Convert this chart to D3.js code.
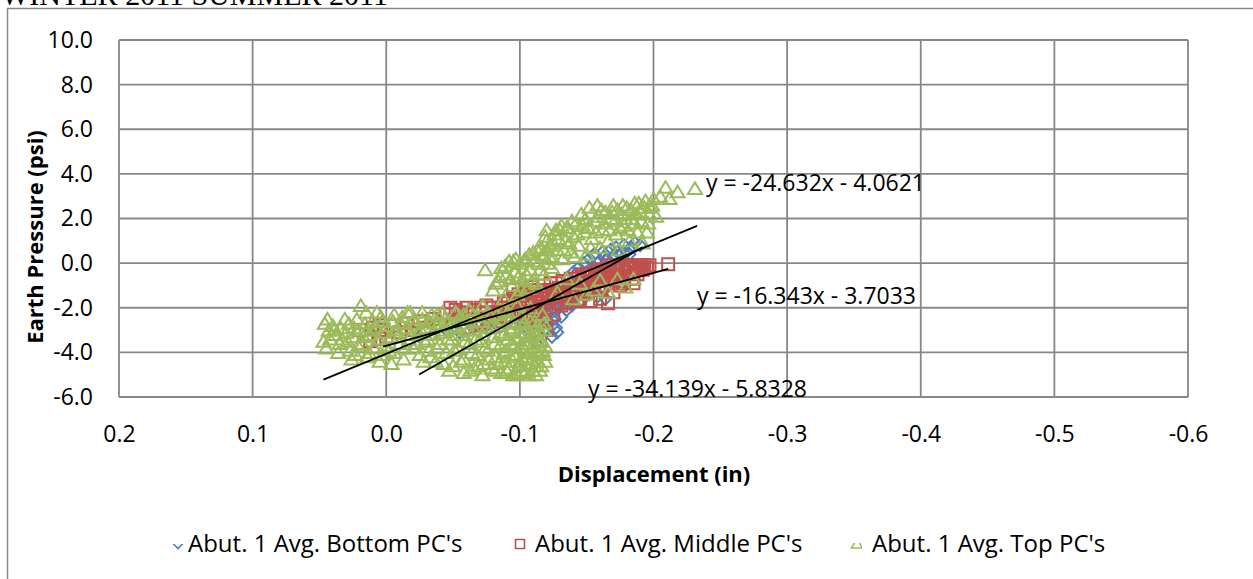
<!DOCTYPE html>
<html><head><meta charset="utf-8">
<script src="https://cdn.jsdelivr.net/npm/d3@7/dist/d3.min.js"></script>
<style>
html,body{margin:0;padding:0;background:#fff;overflow:hidden;}
svg{display:block;}
text{font-family:"Open Sans",sans-serif;fill:#000;}
</style></head>
<body>
<svg id="chart" width="1253" height="579"></svg>
<script>
// ---- data ----
const xTickValues = [0.2, 0.1, 0.0, -0.1, -0.2, -0.3, -0.4, -0.5, -0.6];
const xTickLabels = ["0.2", "0.1", "0.0", "-0.1", "-0.2", "-0.3", "-0.4", "-0.5", "-0.6"];
const yTickValues = [10, 8, 6, 4, 2, 0, -2, -4, -6];
const yTickLabels = ["10.0", "8.0", "6.0", "4.0", "2.0", "0.0", "-2.0", "-4.0", "-6.0"];
const seriesNames = ["Abut. 1 Avg. Bottom PC's", "Abut. 1 Avg. Middle PC's", "Abut. 1 Avg. Top PC's"];

const bottomPCs = [
 [-0.025,-3.3],[-0.035,-3.2],[-0.045,-3.0],[-0.055,-3.1],[-0.065,-2.9],[-0.075,-2.8],[-0.085,-2.9],[-0.095,-2.7],
 [-0.100,-2.5],[-0.105,-2.9],[-0.108,-3.3],[-0.110,-2.2],[-0.112,-3.6],[-0.114,-2.6],[-0.116,-1.9],[-0.118,-3.0],
 [-0.120,-2.3],[-0.122,-1.6],[-0.124,-2.8],[-0.125,-2.0],[-0.127,-1.3],[-0.128,-3.1],[-0.130,-1.7],[-0.132,-1.0],
 [-0.134,-1.4],[-0.136,-0.7],[-0.138,-1.1],[-0.140,-0.4],[-0.142,-0.9],[-0.144,-0.2],[-0.146,-0.6],[-0.148,0.0],
 [-0.150,-0.4],[-0.152,0.2],[-0.154,-0.2],[-0.156,0.4],[-0.158,-1.5],[-0.160,0.1],[-0.162,0.5],[-0.164,-1.6],
 [-0.165,0.2],[-0.168,0.6],[-0.170,0.3],[-0.172,0.7],[-0.175,0.4],[-0.178,0.8],[-0.180,0.5],[-0.183,0.7],
 [-0.186,0.9],[-0.190,0.8],[-0.152,-1.4],[-0.146,-1.7],[-0.140,-1.6],[-0.120,-2.56],[-0.124,-2.2],[-0.155,0.36],
 [-0.126,-2.5],[-0.129,-2.0],[-0.131,-2.4],[-0.133,-1.8],[-0.124,-3.3],[-0.127,-2.9],[-0.135,-2.1],[-0.137,-1.5],
 [-0.139,-1.9],[-0.158,0.0],[-0.163,0.3],[-0.167,0.0],[-0.173,0.5],[-0.177,0.2],[-0.182,0.4]
];

const middlePCs = [
 [0.020,-3.0],[0.015,-3.2],[0.010,-2.9],[0.005,-3.4],[0.002,-3.0],[0.000,-3.3],[0.012,-3.5],[0.005,-2.8],
 [-0.005,-2.8],[-0.010,-3.1],[-0.015,-2.7],[-0.020,-3.0],[-0.025,-2.6],[-0.030,-2.9],[-0.035,-2.5],[-0.040,-2.8],
 [-0.045,-2.3],[-0.048,-2.0],[-0.050,-2.6],[-0.055,-2.2],[-0.058,-2.9],[-0.060,-2.0],[-0.063,-2.5],[-0.066,-2.1],
 [-0.070,-2.7],[-0.072,-2.2],[-0.075,-1.9],[-0.078,-2.4],[-0.080,-2.0],[-0.083,-2.6],[-0.085,-2.2],[-0.088,-1.8],
 [-0.090,-2.4],[-0.092,-2.0],[-0.095,-1.6],[-0.095,-1.2],[-0.098,-2.2],[-0.100,-1.8],[-0.102,-1.4],[-0.104,-2.5],
 [-0.106,-2.0],[-0.108,-1.07],[-0.108,-1.6],[-0.110,-2.8],[-0.110,-1.2],[-0.112,-3.2],[-0.112,-2.2],[-0.113,-3.0],
 [-0.114,-1.8],[-0.115,-3.5],[-0.116,-1.4],[-0.118,-2.6],[-0.118,-1.0],[-0.120,-2.0],[-0.120,-3.0],[-0.122,-1.6],
 [-0.124,-1.2],[-0.125,-2.3],[-0.127,-0.9],[-0.128,-1.8],[-0.130,-1.4],[-0.131,-1.9],[-0.132,-0.8],[-0.134,-1.2],
 [-0.135,-1.8],[-0.136,-1.6],[-0.138,-0.7],[-0.140,-1.0],[-0.142,-1.4],[-0.143,-1.7],[-0.144,-0.6],[-0.146,-0.9],
 [-0.148,-1.3],[-0.150,-0.5],[-0.152,-0.8],[-0.153,-1.7],[-0.155,-1.1],[-0.157,-0.4],[-0.160,-0.7],[-0.162,-1.0],
 [-0.164,-0.3],[-0.166,-1.8],[-0.166,-0.6],[-0.168,-0.9],[-0.170,-0.2],[-0.172,-0.5],[-0.174,-0.8],[-0.176,-0.3],
 [-0.178,-0.6],[-0.180,-0.1],[-0.182,-0.4],[-0.184,-0.7],[-0.186,-0.2],[-0.188,-0.5],[-0.190,-0.1],[-0.192,-0.3],
 [-0.195,-0.2],[-0.197,-0.1],[-0.211,-0.05],
 [-0.121,-1.3],[-0.123,-0.9],[-0.126,-1.5],[-0.129,-1.1],[-0.133,-1.5],[-0.137,-1.1],[-0.139,-1.3],[-0.141,-0.7],
 [-0.145,-1.1],[-0.147,-0.5],[-0.149,-0.9],[-0.151,-1.2],[-0.154,-0.6],[-0.156,-0.9],[-0.158,-0.3],[-0.159,-1.2],
 [-0.161,-0.5],[-0.163,-0.8],[-0.165,-0.1],[-0.167,-0.4],[-0.169,-0.7],[-0.171,-0.3],[-0.173,-0.1],[-0.175,-0.6],
 [-0.177,-0.2],[-0.179,-0.4],[-0.181,-0.2],[-0.183,-0.1],[-0.185,-0.4],[-0.187,-0.1],[-0.189,-0.3],[-0.191,-0.2],
 [-0.193,-0.1],[-0.185,-0.9],[-0.175,-1.0],[-0.160,-1.6],[-0.170,-1.3],[-0.145,-1.6],[-0.178,-0.9],
 [-0.052,-2.1],[-0.057,-2.5],[-0.062,-2.3],[-0.067,-2.8],[-0.071,-2.0],[-0.076,-2.5],[-0.081,-2.2],[-0.086,-2.0],
 [-0.091,-1.7],[-0.094,-2.4],[-0.097,-1.8],[-0.099,-1.4],[-0.101,-2.2],[-0.103,-1.7],[-0.105,-1.3],[-0.107,-2.3],
 [-0.109,-1.9],[-0.111,-1.5],[-0.113,-2.6],[-0.115,-2.0],[-0.117,-1.6],[-0.119,-1.2]
];

const topPCs = [
 [0.046,-2.7],[0.047,-3.5],[0.045,-3.8],[0.043,-3.0],[0.040,-2.8],[0.038,-3.2],[0.036,-4.0],[0.034,-2.9],
 [0.033,-3.4],[0.030,-3.1],[0.028,-2.7],[0.027,-3.9],[0.025,-3.3],[0.023,-4.1],[0.022,-2.5],[0.020,-3.0],
 [0.019,-1.9],[0.018,-3.6],[0.016,-2.7],[0.015,-2.2],[0.014,-4.2],[0.012,-3.2],[0.010,-2.6],[0.009,-3.8],
 [0.008,-2.9],[0.006,-3.4],[0.005,-4.4],[0.004,-2.4],[0.002,-3.1],[0.001,-3.7],[0.000,-2.8],
 [-0.003,-3.3],[-0.005,-2.6],[-0.006,-4.0],[-0.008,-3.0],[-0.010,-3.6],[-0.012,-2.4],[-0.013,-4.3],[-0.015,-2.9],
 [-0.017,-3.4],[-0.018,-2.2],[-0.020,-3.8],[-0.022,-2.7],[-0.024,-3.1],[-0.025,-4.1],[-0.027,-2.5],[-0.029,-3.5],
 [-0.030,-2.9],[-0.032,-3.9],[-0.034,-2.3],[-0.035,-3.2],[-0.037,-4.4],[-0.039,-2.7],[-0.040,-3.6],[-0.042,-2.2],
 [-0.044,-3.0],[-0.045,-4.0],[-0.047,-2.6],[-0.049,-3.4],[-0.050,-4.6],[-0.052,-2.9],[-0.054,-3.8],[-0.055,-2.4],
 [-0.057,-3.2],[-0.058,-4.3],[-0.060,-2.7],[-0.062,-3.6],[-0.063,-4.8],[-0.065,-2.3],[-0.066,-3.0],[-0.068,-4.1],
 [-0.070,-2.6],[-0.071,-3.5],[-0.073,-4.5],[-0.075,-2.9],[-0.076,-3.9],[-0.078,-2.4],[-0.079,-4.7],[-0.080,-3.3],
 [-0.082,-4.2],[-0.083,-2.8],[-0.085,-3.7],[-0.086,-4.9],[-0.087,-2.5],[-0.088,-3.2],[-0.089,-4.4],[-0.090,-3.9],
 [-0.091,-2.2],[-0.092,-4.7],[-0.093,-3.0],[-0.094,-3.6],[-0.095,-5.0],[-0.096,-4.1],[-0.097,-2.7],[-0.098,-3.4],
 [-0.099,-4.6],[-0.100,-3.8],[-0.101,-2.4],[-0.102,-4.3],[-0.103,-3.1],[-0.104,-4.9],[-0.105,-3.6],[-0.106,-2.9],
 [-0.107,-4.5],[-0.108,-4.0],[-0.109,-3.3],[-0.110,-4.8],[-0.111,-2.6],[-0.112,-3.9],[-0.113,-4.4],[-0.114,-3.0],
 [-0.115,-4.8],[-0.116,-3.5],[-0.117,-2.3],[-0.118,-4.1],[-0.119,-3.7],[-0.108,-2.0],[-0.098,-1.9],[-0.088,-2.1],
 [-0.072,-1.9],[-0.062,-2.1],
 [-0.002,-3.9],[-0.009,-3.3],[-0.014,-3.8],[-0.019,-3.2],[-0.023,-3.6],[-0.026,-3.0],[-0.031,-3.4],[-0.033,-4.2],
 [-0.036,-2.7],[-0.038,-3.8],[-0.041,-3.1],[-0.043,-4.5],[-0.046,-3.4],[-0.048,-2.8],[-0.051,-3.9],[-0.053,-3.2],
 [-0.056,-4.4],[-0.059,-3.5],[-0.061,-3.0],[-0.064,-4.0],[-0.067,-3.4],[-0.069,-4.6],[-0.072,-3.2],[-0.074,-3.8],
 [-0.077,-4.3],[-0.079,-2.9],[-0.081,-3.6],[-0.084,-4.5],[-0.086,-3.1],[-0.088,-4.0],[-0.090,-4.8],[-0.091,-3.4],
 [-0.093,-4.2],[-0.095,-2.9],[-0.096,-3.7],[-0.097,-4.9],[-0.099,-3.1],[-0.100,-4.4],[-0.101,-3.6],[-0.102,-4.8],
 [-0.103,-2.7],[-0.104,-3.9],[-0.105,-4.2],[-0.106,-3.3],[-0.107,-5.0],[-0.108,-2.6],[-0.109,-4.3],[-0.110,-3.6],
 [-0.111,-4.6],[-0.112,-3.2],[-0.113,-2.8],[-0.114,-4.0],[-0.115,-3.4],[-0.116,-4.6],[-0.117,-3.9],[-0.118,-3.0],
 [-0.119,-4.4],[-0.118,-2.7],[-0.092,-2.6],[-0.083,-2.3],[-0.076,-2.2],[-0.068,-2.4],[-0.058,-2.3],[-0.052,-2.2],
 [-0.044,-2.5],[-0.038,-2.3],[-0.032,-2.6],[-0.027,-2.2],[-0.021,-2.5],[-0.016,-2.2],[-0.011,-2.7],[-0.006,-2.3],
 [0.003,-2.6],[0.007,-2.2],[0.011,-3.0],[0.017,-3.3],[0.021,-3.7],[0.024,-2.9],[0.029,-3.5],[0.031,-2.5],
 [0.035,-3.6],[0.039,-3.0],[0.042,-3.4],[0.044,-2.5],[0.026,-4.3],[0.013,-4.0],[0.003,-4.1],[-0.004,-4.5],
 [-0.028,-4.4],[-0.047,-4.8],[-0.066,-4.7],[-0.081,-4.8],[-0.098,-5.0],[-0.112,-5.0],[-0.058,-4.9],[-0.072,-5.0],
 [-0.074,-0.3],[-0.080,-1.2],[-0.084,-0.8],[-0.086,-0.2],[-0.085,-0.6],[-0.088,-1.6],[-0.090,-0.5],[-0.092,0.1],
 [-0.094,-1.0],[-0.095,0.1],[-0.096,-0.4],[-0.098,-1.4],[-0.100,0.0],[-0.102,-0.7],[-0.104,0.2],[-0.106,-1.1],
 [-0.108,-0.3],[-0.110,0.5],[-0.112,-0.9],[-0.114,0.0],[-0.116,0.7],[-0.118,-0.5],[-0.120,1.0],[-0.120,1.5],
 [-0.120,0.6],[-0.122,0.3],[-0.124,-0.2],[-0.126,1.3],[-0.127,1.5],[-0.128,0.6],[-0.130,1.5],[-0.132,0.2],
 [-0.134,1.0],[-0.135,1.6],[-0.136,1.6],[-0.138,0.5],[-0.140,1.2],
 [-0.082,-0.9],[-0.089,-0.1],[-0.093,-0.7],[-0.097,0.2],[-0.099,-0.6],[-0.101,-1.2],[-0.103,0.1],[-0.105,-0.5],
 [-0.107,0.4],[-0.109,-0.8],[-0.111,0.1],[-0.113,0.6],[-0.115,-0.3],[-0.117,0.4],[-0.119,1.2],[-0.121,0.0],
 [-0.123,0.8],[-0.125,0.2],[-0.129,1.1],[-0.133,0.6],
 [-0.142,1.8],[-0.144,0.8],[-0.146,2.2],[-0.148,1.4],[-0.150,0.4],[-0.152,2.5],[-0.154,1.1],[-0.156,1.9],
 [-0.158,2.6],[-0.160,0.7],[-0.162,1.5],[-0.164,2.3],[-0.166,1.0],[-0.168,2.0],[-0.170,2.6],[-0.172,1.3],
 [-0.174,0.6],[-0.176,2.2],[-0.178,1.7],[-0.180,2.5],[-0.182,1.0],[-0.184,2.0],[-0.186,2.7],[-0.188,1.4],
 [-0.190,2.3],[-0.192,0.9],[-0.194,2.8],[-0.196,1.8],[-0.198,2.5],[-0.200,2.9],[-0.202,2.1],[-0.205,3.0],
 [-0.209,3.4],[-0.212,2.9],[-0.218,3.2],[-0.231,3.35],
 [-0.125,0.9],[-0.131,1.7],[-0.137,0.9],[-0.139,1.9],[-0.141,0.3],[-0.143,1.3],[-0.147,1.7],[-0.149,2.0],
 [-0.151,1.6],[-0.153,0.7],[-0.157,1.4],[-0.159,2.1],[-0.161,2.4],[-0.163,1.8],[-0.167,1.5],[-0.169,2.3],
 [-0.171,1.9],[-0.173,2.4],[-0.175,1.6],[-0.177,2.6],[-0.179,2.0],[-0.181,1.5],[-0.183,2.4],[-0.185,1.8],
 [-0.187,2.2],[-0.189,2.7],[-0.191,1.9],[-0.193,2.5],[-0.195,1.4],[-0.197,2.2],[-0.199,2.6],
 [-0.145,-0.9],[-0.150,-1.4],[-0.155,-1.2],[-0.160,-0.76],[-0.166,-1.3],[-0.173,-0.7],[-0.179,-1.07],[-0.185,-0.7],
 [-0.135,-0.7],[-0.140,-1.6],[-0.128,-1.3]
];

// trendlines: slope, intercept, x-range (from, to)
const trendSlopes = [-34.139, -16.343, -24.632];
const trendIntercepts = [-5.8328, -3.7033, -4.0621];
const trendFrom = [-0.0246, 0.0024, 0.047];
const trendTo = [-0.192, -0.211, -0.2326];
const trendLabels = ["y = -34.139x - 5.8328", "y = -16.343x - 3.7033", "y = -24.632x - 4.0621"];

// ---- drawing ----
const colors = ["#4F81BD", "#C0504D", "#9BBB59"];
const svg = d3.select("#chart");
const L = 119, R = 1188, T = 40, B = 397;
const x = d3.scaleLinear().domain([0.2, -0.6]).range([L, R]);
const y = d3.scaleLinear().domain([-6, 10]).range([B, T]);

// cropped title
svg.append("text").attr("x", 1).attr("y", 5)
  .style("font-family", "'Liberation Serif',serif").style("font-size", "30px")
  .text("WINTER 2011 SUMMER 2011");

// chart outer border
svg.append("rect").attr("x", 7.5).attr("y", 8.5).attr("width", 1300).attr("height", 700)
  .attr("fill", "none").attr("stroke", "#878787").attr("stroke-width", 1.5);

const gridColor = "#878787";
svg.append("g").selectAll("line").data(yTickValues).join("line")
  .attr("x1", L).attr("x2", R).attr("y1", d => y(d)).attr("y2", d => y(d))
  .attr("stroke", gridColor).attr("stroke-width", 1.8);
svg.append("g").selectAll("line").data(xTickValues).join("line")
  .attr("y1", T).attr("y2", B).attr("x1", d => x(d)).attr("x2", d => x(d))
  .attr("stroke", gridColor).attr("stroke-width", 1.8);

// axes labels
const yAxis = d3.axisLeft(y).tickValues(yTickValues).tickSize(0).tickPadding(26)
  .tickFormat((d, i) => yTickLabels[i]);
const gy = svg.append("g").attr("transform", `translate(${L},0)`).call(yAxis);
gy.select(".domain").remove();
gy.selectAll("text").style("font-family", "'Open Sans',sans-serif").style("font-size", "23px").attr("fill", "#000");

const xAxis = d3.axisBottom(x).tickValues(xTickValues).tickSize(0).tickPadding(28)
  .tickFormat((d, i) => xTickLabels[i]);
const gx = svg.append("g").attr("transform", `translate(0,${B})`).call(xAxis);
gx.select(".domain").remove();
gx.selectAll("text").attr("dy", "0.35em").attr("y", 37)
  .style("font-family", "'Open Sans',sans-serif").style("font-size", "23px").attr("fill", "#000");

// axis titles
svg.append("text").attr("x", 654).attr("y", 482).attr("text-anchor", "middle")
  .style("font-size", "22px").style("font-weight", "bold").text("Displacement (in)");
svg.append("text").attr("transform", "translate(43,237) rotate(-90)").attr("text-anchor", "middle")
  .style("font-size", "22px").style("font-weight", "bold").text("Earth Pressure (psi)");

// marker shapes
function markerPath(k) {
  if (k === 0) return "M0,-6L6,0L0,6L-6,0Z";
  if (k === 1) return "M-6,-6H6V6H-6Z";
  return "M0,-6L7,5.5L-7,5.5Z";
}
const series = [bottomPCs, middlePCs, topPCs];
const plot = svg.append("g");
series.forEach((data, k) => {
  plot.append("g").selectAll("path").data(data).join("path")
    .attr("transform", d => `translate(${x(d[0])},${y(d[1])})`)
    .attr("d", markerPath(k))
    .attr("fill", "none").attr("stroke", colors[k]).attr("stroke-width", 2);
});

// trendlines
trendSlopes.forEach((m, k) => {
  const b = trendIntercepts[k];
  svg.append("line")
    .attr("x1", x(trendFrom[k])).attr("y1", y(m * trendFrom[k] + b))
    .attr("x2", x(trendTo[k])).attr("y2", y(m * trendTo[k] + b))
    .attr("stroke", "#000").attr("stroke-width", 1.8);
});

// trendline labels
const labelPos = [[588, 397], [697, 304], [706, 191]];
trendLabels.forEach((t, k) => {
  svg.append("text").attr("x", labelPos[k][0]).attr("y", labelPos[k][1])
    .style("font-size", "23px").text(t);
});

// legend
const legX = [178, 520, 857];
const legTextX = [188, 535, 872];
const legY = 544;
const defs = svg.append("defs");
seriesNames.forEach((name, k) => {
  const g = svg.append("g").attr("transform", `translate(${legX[k]},${legY})`);
  const p = g.append("path")
    .attr("fill", "none").attr("stroke", colors[k]).attr("stroke-width", 1.6);
  if (k === 1) {
    p.attr("d", "M-4.5,-4.5H4.5V4.5H-4.5Z");
  } else {
    const cid = "clip" + k;
    defs.append("clipPath").attr("id", cid).append("rect")
      .attr("x", k === 2 ? -7 : -8).attr("y", k === 2 ? -1 : 0).attr("width", k === 2 ? 12 : 16).attr("height", 10);
    p.attr("d", k === 0 ? "M0,-4.5L4.5,0L0,4.5L-4.5,0Z" : "M0,-5L5.5,4L-5.5,4Z").attr("clip-path", `url(#${cid})`);
  }
  svg.append("text").attr("x", legTextX[k]).attr("y", legY + 8)
    .style("font-size", "24px").text(name);
});
</script>
</body></html>
